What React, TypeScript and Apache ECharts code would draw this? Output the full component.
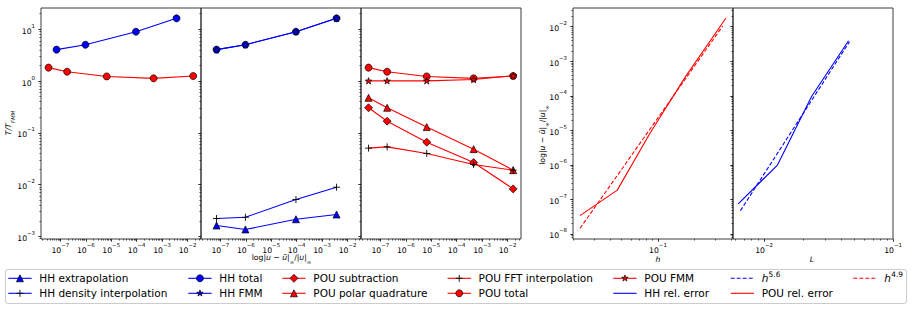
import React, { useEffect, useRef } from "react";
import * as echarts from "echarts";

// ---------- data ----------
// Panels 1-3: x = relative error, y = T / T_FMM
const hhErr = [7.1e-8, 9.7e-7, 9.4e-5, 3.7e-3];
const hhTotal = [4.05, 5.03, 9.0, 16.3];
const hhFmm = [4.05, 5.03, 9.0, 16.3];
const hhDensityInterp = [2.21e-3, 2.34e-3, 5.15e-3, 8.9e-3];
const hhExtrapolation = [1.62e-3, 1.36e-3, 2.14e-3, 2.64e-3];

const pouErr = [3.44e-8, 1.85e-7, 6.67e-6, 4.65e-4, 1.67e-2];
const pouTotal = [1.82, 1.52, 1.23, 1.13, 1.25];
const pouFmm = [1.01, 1.01, 1.01, 1.07, 1.27];
const pouPolar = [0.475, 0.305, 0.129, 0.0484, 0.019];
const pouSubtraction = [0.305, 0.168, 0.066, 0.0267, 0.00826];
const pouFftInterp = [0.0506, 0.0536, 0.04, 0.0245, 0.019];

// Panel 4: x = h, y = relative error
const hValues = [0.0227, 0.0461, 0.0859, 0.17, 0.365];
const pouRelError = [3.4e-8, 1.86e-7, 8.2e-6, 3.7e-4, 1.79e-2];
const hFitX = [0.0227, 0.343];
const pouFitY = [1.46e-8, 1.05e-2];

// Panel 5: x = L, y = relative error
const lValues = [0.0063, 0.0127, 0.0233, 0.0452];
const hhRelError = [7.4e-8, 9.9e-7, 9.4e-5, 3.9e-3];
const lFitX = [0.00655, 0.046];
const hhFitY = [4.72e-8, 3.68e-3];

// tick exponents (labels 10^n)
const errTickExps = [-7, -6, -5, -4, -3, -2];
const timeTickExps = [-3, -2, -1, 0, 1];
const relErrTickExps = [-8, -7, -6, -5, -4, -3, -2];
const hTickExps = [-1];
const lTickExps = [-2, -1];

// axis ranges in decades (log10)
const errRange = [-7.76, -1.47];
const timeRange = [-3.051, 1.412];
const relErrRange = [-8.145, -1.459];
const hRange = [-1.702, -0.38];
const lRange = [-2.241, -1.0];

// legend names, column-major order as in the reference
const legendNames = [
  "HH extrapolation",
  "HH density interpolation",
  "HH total",
  "HH FMM",
  "POU subtraction",
  "POU polar quadrature",
  "POU FFT interpolation",
  "POU total",
  "POU FMM",
  "HH rel. error",
  "h^5.6",
  "POU rel. error",
  "h^4.9",
];

// ---------- styles ----------
const BLUE = "#0000ff";
const RED = "#ff0000";
const FONT = "DejaVu Sans";
const LW = 1.1;

const STAR_PATH =
  "path://M0,-100L22.45,-30.9L95.1,-30.9L36.3,11.8L58.8,80.9L0,38.2L-58.8,80.9L-36.3,11.8L-95.1,-30.9L-22.45,-30.9Z";
const CROSS_PATH = "path://M0,-10L0,10M-10,0L10,0";

type Marker = "circle" | "triangle" | "diamond" | "star" | "cross" | "none";

const markerSymbol: Record<Marker, any> = {
  circle: { symbol: "circle", symbolSize: 7 },
  triangle: { symbol: "triangle", symbolSize: 7 },
  diamond: { symbol: "diamond", symbolSize: 8 },
  star: { symbol: STAR_PATH, symbolSize: [6.8, 6.5] },
  cross: { symbol: CROSS_PATH, symbolSize: 7 },
  none: { symbol: "none" },
};

const legendStyle: Record<string, { color: string; marker: Marker; dashed?: boolean }> = {
  "HH extrapolation": { color: BLUE, marker: "triangle" },
  "HH density interpolation": { color: BLUE, marker: "cross" },
  "HH total": { color: BLUE, marker: "circle" },
  "HH FMM": { color: BLUE, marker: "star" },
  "POU subtraction": { color: RED, marker: "diamond" },
  "POU polar quadrature": { color: RED, marker: "triangle" },
  "POU FFT interpolation": { color: RED, marker: "cross" },
  "POU total": { color: RED, marker: "circle" },
  "POU FMM": { color: RED, marker: "star" },
  "HH rel. error": { color: BLUE, marker: "none" },
  "h^5.6": { color: BLUE, marker: "none", dashed: true },
  "POU rel. error": { color: RED, marker: "none" },
  "h^4.9": { color: RED, marker: "none", dashed: true },
};

const log10 = (v: number) => Math.log10(v);

function minorTicks(range: number[]) {
  const out: number[] = [];
  for (let n = Math.floor(range[0]) - 1; n <= Math.ceil(range[1]); n++) {
    for (let k = 2; k <= 9; k++) {
      const v = n + Math.log10(k);
      if (v >= range[0] && v <= range[1]) out.push(v);
    }
  }
  return out;
}

const tickRich = {
  b: { fontSize: 7.7, lineHeight: 12, verticalAlign: "bottom", fontFamily: FONT, color: "#000" },
  s: { fontSize: 5.4, lineHeight: 6.4, verticalAlign: "top", fontFamily: FONT, color: "#000" },
};

function powLabel(v: number) {
  const e = Math.round(v);
  const s = e < 0 ? "\u2212" + Math.abs(e) : String(e);
  return `{b|10}{s|${s}}`;
}

function axisPair(dim: "x" | "y", gridIndex: number, range: number[], majors: number[], showLabels: boolean) {
  const base: any = {
    type: "value",
    gridIndex,
    min: range[0],
    max: range[1],
    position: dim === "x" ? "bottom" : "left",
    axisLine: { show: false, onZero: false },
    splitLine: { show: false },
    silent: true,
  };
  const major = {
    ...base,
    axisTick: { show: true, length: 2.7, customValues: majors, lineStyle: { color: "#000", width: 0.8 } },
    axisLabel: {
      show: showLabels,
      customValues: majors,
      formatter: powLabel,
      rich: tickRich,
      margin: dim === "x" ? 3.3 : 6,
      color: "#000",
    },
  };
  const minor = {
    ...base,
    axisTick: { show: true, length: 1.6, customValues: minorTicks(range), lineStyle: { color: "#000", width: 0.6 } },
    axisLabel: { show: false },
  };
  return [major, minor];
}

function lineSeries(name: string, panel: number, xs: number[], ys: number[], z = 2) {
  const st = legendStyle[name];
  const sym = markerSymbol[st.marker];
  return {
    type: "line",
    name,
    xAxisIndex: panel * 2,
    yAxisIndex: panel * 2,
    data: xs.map((x, i) => [log10(x), log10(ys[i])]),
    ...sym,
    showSymbol: st.marker !== "none",
    z,
    silent: true,
    lineStyle: { color: st.color, width: LW, type: st.dashed ? [4, 2] : "solid" },
    itemStyle: {
      color: st.color,
      borderColor: "#000",
      borderWidth: st.marker === "cross" ? 0.9 : 0.7,
    },
  };
}

// legend glyphs
function markerGraphic(marker: Marker, cx: number, cy: number, fill: string): any[] {
  const stroke = "#000";
  if (marker === "circle")
    return [{ type: "circle", shape: { cx, cy, r: 3.5 }, style: { fill, stroke, lineWidth: 0.7 }, z: 10 }];
  if (marker === "triangle")
    return [
      {
        type: "polygon",
        shape: { points: [[cx, cy - 3.5], [cx + 3.5, cy + 3.5], [cx - 3.5, cy + 3.5]] },
        style: { fill, stroke, lineWidth: 0.7 },
        z: 10,
      },
    ];
  if (marker === "diamond")
    return [
      {
        type: "polygon",
        shape: { points: [[cx, cy - 4], [cx + 4, cy], [cx, cy + 4], [cx - 4, cy]] },
        style: { fill, stroke, lineWidth: 0.7 },
        z: 10,
      },
    ];
  if (marker === "star") {
    const pts: number[][] = [];
    for (let k = 0; k < 10; k++) {
      const r = k % 2 === 0 ? 3.4 : 3.4 * 0.382;
      const a = -Math.PI / 2 + (k * Math.PI) / 5;
      pts.push([cx + r * Math.cos(a), cy + r * Math.sin(a)]);
    }
    return [{ type: "polygon", shape: { points: pts }, style: { fill, stroke, lineWidth: 0.7 }, z: 10 }];
  }
  if (marker === "cross")
    return [
      { type: "line", shape: { x1: cx - 3.5, y1: cy, x2: cx + 3.5, y2: cy }, style: { stroke, lineWidth: 0.9 }, z: 10 },
      { type: "line", shape: { x1: cx, y1: cy - 3.5, x2: cx, y2: cy + 3.5 }, style: { stroke, lineWidth: 0.9 }, z: 10 },
    ];
  return [];
}

function buildLegend(): any[] {
  const colX = [8.3, 188.3, 282.3, 447.6, 613.3, 730.7, 853.3];
  const rowY = [278.3, 293.3];
  const els: any[] = [
    {
      type: "rect",
      shape: { x: 5.5, y: 269.5, width: 901, height: 34, r: 2.5 },
      style: { fill: "#fff", stroke: "#cccccc", lineWidth: 1 },
      z: 5,
    },
  ];
  legendNames.forEach((name, i) => {
    const st = legendStyle[name];
    const x0 = colX[Math.floor(i / 2)];
    const y = rowY[i % 2];
    els.push({
      type: "line",
      shape: { x1: x0, y1: y, x2: x0 + 23.3, y2: y },
      style: { stroke: st.color, lineWidth: LW, lineDash: st.dashed ? [4, 2] : null },
      z: 9,
    });
    els.push(...markerGraphic(st.marker, x0 + 11.65, y, st.color));
    const m = name.match(/^h\^(.*)$/);
    if (m) {
      els.push({
        type: "text",
        x: x0 + 31,
        y,
        style: {
          text: "h",
          fontSize: 10.5,
          fontStyle: "italic",
          fontFamily: FONT,
          fill: "#000",
          align: "left",
          verticalAlign: "middle",
        },
        z: 10,
      });
      els.push({
        type: "text",
        x: x0 + 31 + 6.9,
        y: y - 4.3,
        style: { text: m[1], fontSize: 7.4, fontFamily: FONT, fill: "#000", align: "left", verticalAlign: "middle" },
        z: 10,
      });
    } else {
      els.push({
        type: "text",
        x: x0 + 31,
        y,
        style: { text: name, fontSize: 10.5, fontFamily: FONT, fill: "#000", align: "left", verticalAlign: "middle" },
        z: 10,
      });
    }
  });
  return els;
}

const errLabelText = "{r|log|}{i|u}{r| \u2212 }{i|u\u0303}{r||}{sub|\u221e}{r|/|}{i|u}{r||}{sub|\u221e}";
const errLabelRich = {
  r: { fontSize: 7.7, fontFamily: FONT, lineHeight: 11, verticalAlign: "top", fill: "#000" },
  i: { fontSize: 7.7, fontFamily: FONT, fontStyle: "italic", lineHeight: 11, verticalAlign: "top", fill: "#000" },
  sub: { fontSize: 5.4, fontFamily: FONT, lineHeight: 7, verticalAlign: "bottom", fill: "#000" },
};

export default function App() {
  const ref = useRef<HTMLDivElement>(null);
  useEffect(() => {
    if (!ref.current) return;
    const chart = echarts.init(ref.current, undefined, { renderer: "svg" });

    const gridLefts = [41, 201, 361, 573, 733];
    const grids = gridLefts.map((left) => ({
      left,
      top: 8,
      width: 160,
      height: 231,
      show: true,
      borderColor: "#262626",
      borderWidth: 0.9,
      backgroundColor: "transparent",
      containLabel: false,
    }));

    const xAxis = [
      ...axisPair("x", 0, errRange, errTickExps, true),
      ...axisPair("x", 1, errRange, errTickExps, true),
      ...axisPair("x", 2, errRange, errTickExps, true),
      ...axisPair("x", 3, hRange, hTickExps, true),
      ...axisPair("x", 4, lRange, lTickExps, true),
    ];
    const yAxis = [
      ...axisPair("y", 0, timeRange, timeTickExps, true),
      ...axisPair("y", 1, timeRange, timeTickExps, false),
      ...axisPair("y", 2, timeRange, timeTickExps, false),
      ...axisPair("y", 3, relErrRange, relErrTickExps, true),
      ...axisPair("y", 4, relErrRange, relErrTickExps, false),
    ];

    const series = [
      lineSeries("HH total", 0, hhErr, hhTotal),
      lineSeries("POU total", 0, pouErr, pouTotal),

      lineSeries("HH extrapolation", 1, hhErr, hhExtrapolation),
      lineSeries("HH density interpolation", 1, hhErr, hhDensityInterp),
      lineSeries("HH total", 1, hhErr, hhTotal),
      lineSeries("HH FMM", 1, hhErr, hhFmm, 3),

      lineSeries("POU subtraction", 2, pouErr, pouSubtraction),
      lineSeries("POU polar quadrature", 2, pouErr, pouPolar),
      lineSeries("POU FFT interpolation", 2, pouErr, pouFftInterp),
      lineSeries("POU total", 2, pouErr, pouTotal),
      lineSeries("POU FMM", 2, pouErr, pouFmm, 3),

      lineSeries("POU rel. error", 3, hValues, pouRelError),
      lineSeries("h^4.9", 3, hFitX, pouFitY),

      lineSeries("HH rel. error", 4, lValues, hhRelError),
      lineSeries("h^5.6", 4, lFitX, hhFitY),
    ];

    const graphic = [
      {
        type: "text",
        x: 10,
        y: 123,
        rotation: Math.PI / 2,
        style: {
          text: "{i|T/T}{sub|FMM}",
          rich: {
            i: { fontSize: 7.7, fontFamily: FONT, fontStyle: "italic", lineHeight: 11, verticalAlign: "top", fill: "#000" },
            sub: { fontSize: 5.4, fontFamily: FONT, fontStyle: "italic", lineHeight: 7, verticalAlign: "bottom", fill: "#000" },
          },
          align: "center",
          verticalAlign: "middle",
        },
      },
      {
        type: "text",
        x: 281.5,
        y: 259,
        style: { text: errLabelText, rich: errLabelRich, align: "center", verticalAlign: "middle" },
      },
      {
        type: "text",
        x: 544,
        y: 135,
        rotation: Math.PI / 2,
        style: { text: errLabelText, rich: errLabelRich, align: "center", verticalAlign: "middle" },
      },
      {
        type: "text",
        x: 658,
        y: 259,
        style: { text: "h", fontSize: 7.7, fontFamily: FONT, fontStyle: "italic", fill: "#000", align: "center", verticalAlign: "middle" },
      },
      {
        type: "text",
        x: 812,
        y: 259,
        style: { text: "L", fontSize: 7.7, fontFamily: FONT, fontStyle: "italic", fill: "#000", align: "center", verticalAlign: "middle" },
      },
      ...buildLegend(),
    ];

    chart.setOption({
      animation: false,
      textStyle: { fontFamily: FONT },
      grid: grids,
      xAxis,
      yAxis,
      series,
      graphic,
    });
    return () => chart.dispose();
  }, []);

  return (
    <div
      ref={ref}
      style={{ position: "absolute", left: 0, top: 0, width: 913, height: 309, background: "#fff" }}
    />
  );
}
